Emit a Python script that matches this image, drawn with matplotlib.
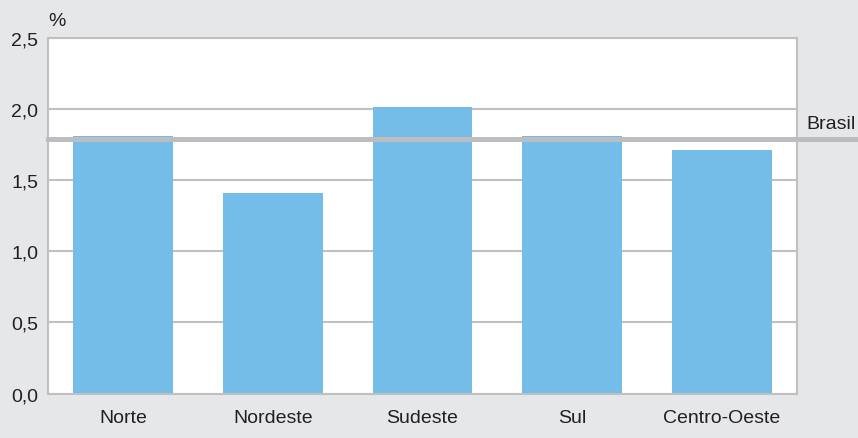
import matplotlib
matplotlib.use("Agg")
import matplotlib.pyplot as plt

categories = ["Norte", "Nordeste", "Sudeste", "Sul", "Centro-Oeste"]
values = [1.81, 1.41, 2.01, 1.81, 1.71]
brasil_value = 1.79
brasil_label = "Brasil"
yticks = [0.0, 0.5, 1.0, 1.5, 2.0, 2.5]
ytick_labels = ["0,0", "0,5", "1,0", "1,5", "2,0", "2,5"]
unit_label = "%"

plt.rcParams['font.family'] = ['Liberation Sans', 'DejaVu Sans']

bg = "#e6e7e8"
fig = plt.figure(figsize=(8.58, 4.39), dpi=100, facecolor=bg)
W, H = 858, 439
left, right, top, bottom = 48, 797, 38.5, 394.5
ax = fig.add_axes([left / W, 1 - bottom / H, (right - left) / W, (bottom - top) / H])
ax.set_facecolor("white")

x = list(range(len(categories)))
ax.bar(x, values, width=0.667, color="#73bde8", zorder=2)
ax.set_xlim(-0.5, len(categories) - 0.5)
ax.set_ylim(0, 2.5)

ax.set_yticks(yticks)
ax.set_yticklabels(ytick_labels)
ax.set_xticks(x)
ax.set_xticklabels(categories)
ax.tick_params(axis="both", length=0, labelsize=14, colors="#231f20")
ax.tick_params(axis="y", pad=7)
ax.tick_params(axis="x", pad=11)

ax.yaxis.grid(True, color="#c0c0c2", linewidth=1.5, zorder=1)
ax.set_axisbelow(True)
for s in ax.spines.values():
    s.set_color("#c0c0c2")
    s.set_linewidth(1.5)

xmax_frac = (W - left) / (right - left)
ax.axhline(brasil_value, xmin=0, xmax=xmax_frac, color="#bcbdc0",
           linewidth=3.6, clip_on=False, zorder=3)
ax.annotate(brasil_label, xy=(xmax_frac, brasil_value), xycoords=("axes fraction", "data"),
            xytext=(-2, 5), textcoords="offset points", ha="right", va="bottom",
            fontsize=14, color="#231f20", annotation_clip=False)

fig.text(57 / W, 1 - 22 / H, unit_label, fontsize=14, color="#231f20",
         ha="center", va="center")

fig.savefig("out.png", dpi=100, facecolor=bg)
